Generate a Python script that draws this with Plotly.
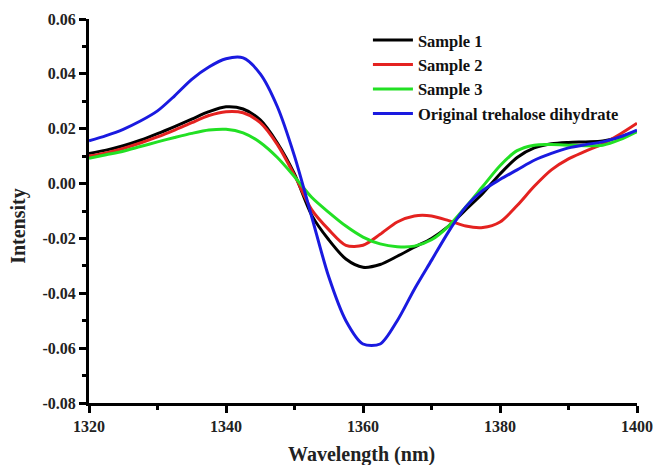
import plotly.graph_objects as go

# Wavelength grid (nm)
wavelength = [1320 + 2.5 * i for i in range(33)]

sample1 = [0.0110, 0.0122, 0.0138, 0.0158, 0.0182, 0.0208, 0.0235, 0.0262, 0.0280,
           0.0272, 0.0232, 0.0148, 0.0035, -0.0115, -0.0205, -0.0275, -0.0305,
           -0.0295, -0.0265, -0.0232, -0.0200, -0.0155, -0.0095, -0.0035, 0.0035,
           0.0095, 0.0130, 0.0145, 0.0150, 0.0152, 0.0155, 0.0170, 0.0190]

sample2 = [0.0100, 0.0112, 0.0128, 0.0148, 0.0170, 0.0195, 0.0222, 0.0248, 0.0262,
           0.0258, 0.0222, 0.0142, 0.0030, -0.0095, -0.0168, -0.0225, -0.0225,
           -0.0185, -0.0140, -0.0118, -0.0118, -0.0135, -0.0155, -0.0160, -0.0140,
           -0.0080, -0.0010, 0.0050, 0.0090, 0.0118, 0.0145, 0.0180, 0.0220]

sample3 = [0.0092, 0.0105, 0.0118, 0.0135, 0.0152, 0.0168, 0.0183, 0.0195, 0.0198,
           0.0185, 0.0150, 0.0095, 0.0025, -0.0050, -0.0105, -0.0155, -0.0195,
           -0.0220, -0.0230, -0.0228, -0.0205, -0.0155, -0.0085, -0.0010, 0.0065,
           0.0120, 0.0140, 0.0142, 0.0140, 0.0138, 0.0140, 0.0160, 0.0190]

original = [0.0156, 0.0175, 0.0198, 0.0228, 0.0265, 0.0320, 0.0380, 0.0425, 0.0455,
            0.0458, 0.0400, 0.0280, 0.0100, -0.0120, -0.0340, -0.0500, -0.0585,
            -0.0585, -0.0500, -0.0385, -0.0280, -0.0175, -0.0085, -0.0025, 0.0015,
            0.0050, 0.0085, 0.0110, 0.0130, 0.0142, 0.0152, 0.0170, 0.0195]

series_names = ["Sample 1", "Sample 2", "Sample 3", "Original trehalose dihydrate"]
series_colors = ["#000000", "#e42220", "#22e024", "#1a1ae0"]

x_tickvals = [1320, 1340, 1360, 1380, 1400]
y_tickvals = [-0.08, -0.06, -0.04, -0.02, 0.00, 0.02, 0.04, 0.06]
y_ticktext = ["-0.08", "-0.06", "-0.04", "-0.02", "0.00", "0.02", "0.04", "0.06"]

FONT = "Liberation Serif"
TEXT_COLOR = "#222222"

fig = go.Figure()
for name, ys, col in zip(series_names, [sample1, sample2, sample3, original], series_colors):
    fig.add_trace(go.Scatter(
        x=wavelength, y=ys, name=name, mode="lines",
        line=dict(color=col, width=3, shape="spline", smoothing=0.8),
    ))

axis_common = dict(
    showline=True, linecolor="black", linewidth=3,
    ticks="outside", ticklen=7, tickwidth=3, tickcolor="black",
    showgrid=False, zeroline=False, mirror=False, automargin=False,
    tickfont=dict(family=FONT, size=16, color=TEXT_COLOR, weight="bold"),
)

fig.update_xaxes(
    range=[1320, 1400], tickvals=x_tickvals,
    minor=dict(ticks="outside", ticklen=4, tickwidth=2.5, tickcolor="black", dtick=10, tick0=1320),
    **axis_common,
)
fig.update_yaxes(
    range=[-0.08, 0.06], tickvals=y_tickvals, ticktext=y_ticktext,
    minor=dict(ticks="outside", ticklen=4, tickwidth=2.5, tickcolor="black", dtick=0.01, tick0=0),
    **axis_common,
)

# Axis titles
title_font = dict(family=FONT, size=20, color=TEXT_COLOR, weight="bold")
fig.add_annotation(text="Wavelength (nm)", xref="paper", yref="paper",
                   x=0.498, y=-0.135, xanchor="center", yanchor="middle",
                   showarrow=False, font=title_font)
fig.add_annotation(text="Intensity", xref="paper", yref="paper",
                   x=-0.128, y=0.461, xanchor="center", yanchor="middle",
                   textangle=-90, showarrow=False, font=title_font)

fig.update_layout(
    width=653, height=465,
    margin=dict(l=89, r=16, t=19, b=62),
    paper_bgcolor="white", plot_bgcolor="white",
    showlegend=True,
    legend=dict(
        x=0.509, y=0.99, xanchor="left", yanchor="top",
        font=dict(family=FONT, size=16.5, color="#111111", weight="bold"),
        bgcolor="rgba(0,0,0,0)", tracegroupgap=0, itemwidth=40,
    ),
)

fig.write_html("out.html")
